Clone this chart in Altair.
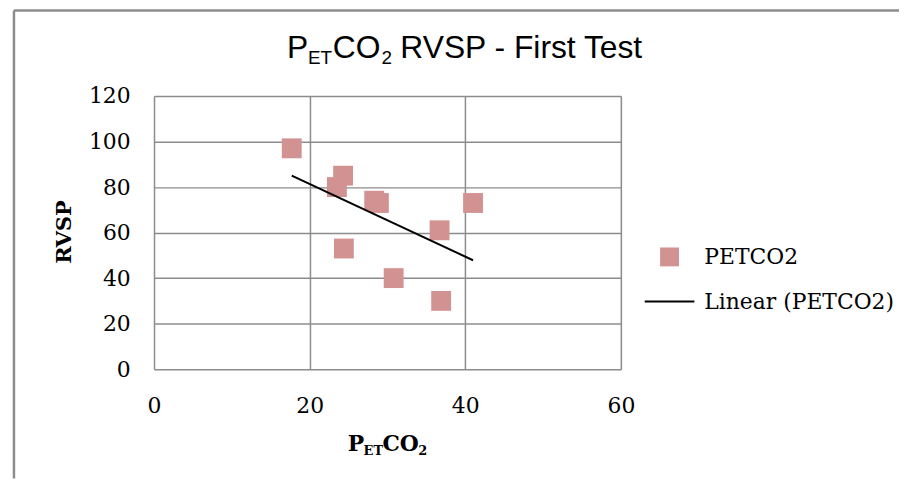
import altair as alt
import pandas as pd

# ---- data ----
petco2 = [17.7, 24.3, 23.5, 28.3, 28.9, 24.4, 30.8, 36.7, 36.9, 41.0]
rvsp = [97, 85, 80, 74, 73, 53, 40, 61, 30, 73]
series_name = "PETCO2"
trend_name = "Linear (PETCO2)"
x_ticks = [0, 20, 40, 60]
y_ticks = [0, 20, 40, 60, 80, 100, 120]
title_parts = ["P", "ET", "CO", "2", "RVSP - First Test"]
xtitle_parts = ["P", "ET", "CO", "2"]
y_title = "RVSP"

df = pd.DataFrame({"x": petco2, "y": rvsp, "series": series_name})

W, H = 470, 275
GRID = "#8c8c8c"
MARKER = "#d39292"
SERIF = "DejaVu Serif"
SANS = "Liberation Sans"

x_enc = alt.X(
    "x:Q",
    scale=alt.Scale(domain=[0, 60], nice=False),
    axis=alt.Axis(values=x_ticks, title=None, grid=True, gridColor=GRID, gridWidth=1.5,
                  domain=False, ticks=False, labelFont=SERIF, labelFontSize=22,
                  labelColor="black", labelPadding=27, labelFlush=False),
)
y_enc = alt.Y(
    "y:Q",
    scale=alt.Scale(domain=[0, 120], nice=False),
    axis=alt.Axis(values=y_ticks, title=None, grid=True, gridColor=GRID, gridWidth=1.5,
                  domain=False, ticks=False, labelFont=SERIF, labelFontSize=22,
                  labelColor="black", labelPadding=24, labelFlush=False),
)

points = alt.Chart(df).mark_point(shape="square", filled=True, size=400, opacity=1).encode(
    x=x_enc,
    y=y_enc,
    color=alt.Color(
        "series:N",
        scale=alt.Scale(domain=[series_name], range=[MARKER]),
        legend=alt.Legend(orient="none", legendX=508, legendY=151, title=None,
                          symbolType="square", symbolSize=361, symbolOpacity=1,
                          symbolStrokeWidth=0, labelFont=SERIF, labelFontSize=22,
                          labelColor="black", labelOffset=24, labelLimit=0, padding=0),
    ),
)

line = (
    alt.Chart(df)
    .transform_regression("x", "y")
    .transform_calculate(trend=f"'{trend_name}'")
    .mark_line(strokeWidth=2)
    .encode(
        x="x:Q",
        y="y:Q",
        stroke=alt.Stroke(
            "trend:N",
            scale=alt.Scale(domain=[trend_name], range=["black"]),
            legend=alt.Legend(orient="none", legendX=493, legendY=181, title=None,
                              symbolType="stroke", symbolSize=2500, symbolStrokeWidth=2,
                              labelFont=SERIF, labelFontSize=22, labelColor="black",
                              labelOffset=9, labelLimit=0, padding=0),
        ),
    )
)


def txt(s, x, y, size, font, bold=False, angle=0, align="left", baseline="alphabetic"):
    props = dict(align=align, baseline=baseline, fontSize=size, font=font,
                 fontWeight="bold" if bold else "normal", color="black")
    if angle:
        props["angle"] = angle
    return alt.Chart(pd.DataFrame({"t": [s]})).mark_text(**props).encode(
        x=alt.value(x), y=alt.value(y), text="t:N")


title_layers = [
    txt(title_parts[0], 134, -38, 32, SANS),
    txt(title_parts[1], 155, -32, 19, SANS),
    txt(title_parts[2], 180, -38, 32, SANS),
    txt(title_parts[3], 229, -32, 19, SANS),
    txt(title_parts[4], 248, -38, 32, SANS),
]
xtitle_layers = [
    txt(xtitle_parts[0], 195, 357, 22, SERIF, bold=True),
    txt(xtitle_parts[1], 211, 361, 13, SERIF, bold=True),
    txt(xtitle_parts[2], 230, 357, 22, SERIF, bold=True),
    txt(xtitle_parts[3], 266, 361, 13, SERIF, bold=True),
]
ytitle_layer = txt(y_title, -90, 137, 21, SERIF, bold=True, angle=270,
                   align="center", baseline="middle")

frame_df = pd.DataFrame({"k": [0]})
frame_left = alt.Chart(frame_df).mark_rule(color=GRID, strokeWidth=2.5).encode(
    x=alt.value(-141), y=alt.value(-86), y2=alt.value(385))
frame_top = alt.Chart(frame_df).mark_rule(color=GRID, strokeWidth=2.5).encode(
    y=alt.value(-86), x=alt.value(-141), x2=alt.value(750))

chart = (
    alt.layer(frame_left, frame_top, points, line, *title_layers, *xtitle_layers, ytitle_layer)
    .properties(width=W, height=H,
                autosize=alt.AutoSizeParams(type="none"),
                padding={"left": 147, "top": 87, "right": 280, "bottom": 110})
    .configure_view(stroke=GRID, strokeWidth=1.5)
    .configure(background="white")
)

chart.save("out.html", embed_options={"renderer": "svg", "actions": False})
